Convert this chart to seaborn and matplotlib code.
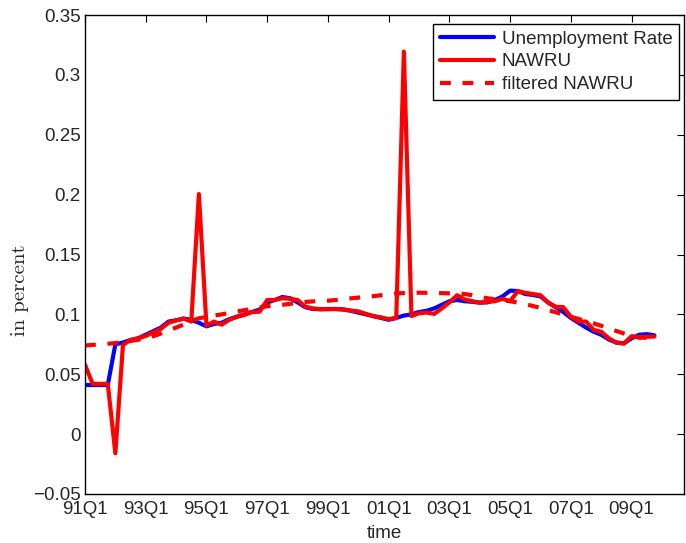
import numpy as np
import pandas as pd
import matplotlib
matplotlib.use("Agg")
import matplotlib.pyplot as plt
import seaborn as sns

# ---- data (quarterly, 91Q1 .. 09Q4) ----
quarter_index = list(range(76))
tick_positions = [0, 8, 16, 24, 32, 40, 48, 56, 64, 72]
tick_labels = ["91Q1", "93Q1", "95Q1", "97Q1", "99Q1", "01Q1", "03Q1", "05Q1", "07Q1", "09Q1"]

unemployment_rate = [
    0.041, 0.041, 0.041, 0.041, 0.075, 0.0765, 0.0786, 0.080, 0.083, 0.086,
    0.089, 0.094, 0.095, 0.0965, 0.0955, 0.093, 0.090, 0.092, 0.093, 0.096,
    0.098, 0.100, 0.102, 0.104, 0.110, 0.112, 0.1145, 0.1135, 0.110, 0.106,
    0.1045, 0.1043, 0.1045, 0.1045, 0.1042, 0.103, 0.1015, 0.100, 0.0985, 0.097,
    0.0955, 0.097, 0.099, 0.100, 0.102, 0.103, 0.105, 0.108, 0.111, 0.112,
    0.111, 0.1105, 0.1098, 0.110, 0.112, 0.115, 0.1198, 0.1195, 0.117, 0.1162,
    0.115, 0.110, 0.106, 0.102, 0.097, 0.093, 0.089, 0.0855, 0.083, 0.079,
    0.0765, 0.0758, 0.080, 0.083, 0.0835, 0.0825,
]

nawru = [
    0.058, 0.042, 0.042, 0.042, -0.016, 0.0745, 0.0786, 0.080, 0.082, 0.085,
    0.088, 0.093, 0.095, 0.0965, 0.094, 0.2005, 0.0906, 0.094, 0.0914, 0.0955,
    0.098, 0.0996, 0.102, 0.1022, 0.112, 0.112, 0.1135, 0.113, 0.112, 0.1065,
    0.105, 0.1043, 0.1043, 0.1045, 0.1040, 0.1032, 0.1025, 0.1004, 0.0985, 0.0975,
    0.096, 0.097, 0.3195, 0.0986, 0.101, 0.1015, 0.1004, 0.105, 0.110, 0.116,
    0.1125, 0.111, 0.1097, 0.1106, 0.111, 0.113, 0.111, 0.1194, 0.118, 0.117,
    0.116, 0.1097, 0.1064, 0.106, 0.098, 0.094, 0.094, 0.087, 0.0855, 0.080,
    0.0763, 0.0757, 0.0818, 0.081, 0.0813, 0.0815,
]

filtered_nawru = [
    0.0740, 0.0745, 0.0750, 0.0755, 0.0760, 0.0768, 0.0778, 0.0788, 0.0800, 0.0818,
    0.0840, 0.0865, 0.0890, 0.0915, 0.0945, 0.0967, 0.0980, 0.0990, 0.1000, 0.1012,
    0.1024, 0.1035, 0.1047, 0.1058, 0.1068, 0.1075, 0.1080, 0.1088, 0.1096, 0.1104,
    0.1108, 0.1111, 0.1114, 0.1120, 0.1127, 0.1134, 0.1140, 0.1146, 0.1152, 0.1160,
    0.1168, 0.1175, 0.1178, 0.1180, 0.1181, 0.1180, 0.1179, 0.1177, 0.1176, 0.1175,
    0.1170, 0.1160, 0.1145, 0.1135, 0.1125, 0.1118, 0.1110, 0.1098, 0.1085, 0.1070,
    0.1053, 0.1035, 0.1018, 0.0999, 0.0980, 0.0962, 0.0943, 0.0925, 0.0905, 0.0883,
    0.0861, 0.0840, 0.0820, 0.0805, 0.0805, 0.0810,
]

df = pd.DataFrame({
    "t": quarter_index,
    "Unemployment Rate": unemployment_rate,
    "NAWRU": nawru,
    "filtered NAWRU": filtered_nawru,
})

sns.set_style("white")
plt.rcParams["font.family"] = ["Liberation Sans", "DejaVu Sans"]
plt.rcParams["axes.unicode_minus"] = True

fig = plt.figure(figsize=(6.86, 5.43), dpi=100)
ax = fig.add_axes([85 / 686, 1 - 494 / 543, 599 / 686, 479 / 543])

lw = 3.0
sns.lineplot(data=df, x="t", y="Unemployment Rate", ax=ax, color=(0, 0, 1), lw=lw,
             label="Unemployment Rate")
sns.lineplot(data=df, x="t", y="NAWRU", ax=ax, color=(1, 0, 0), lw=lw, label="NAWRU")
sns.lineplot(data=df, x="t", y="filtered NAWRU", ax=ax, color=(1, 0, 0), lw=lw,
             label="filtered NAWRU", dashes=False)
ax.lines[-1].set_dashes((2.6, 2.8))

ax.set_xlim(0, 78.9)
ax.set_ylim(-0.05, 0.35)
ax.set_xticks(tick_positions)
ax.set_xticklabels(tick_labels)
ax.set_yticks([-0.05, 0, 0.05, 0.1, 0.15, 0.2, 0.25, 0.3, 0.35])
ax.set_yticklabels(["\u22120.05", "0", "0.05", "0.1", "0.15", "0.2", "0.25", "0.3", "0.35"])

ax.tick_params(axis="both", which="major", direction="in", length=5, width=0.8,
               labelsize=13.5, top=True, right=True, color="black")
ax.tick_params(axis="x", pad=5)
ax.tick_params(axis="y", pad=3)
for s in ax.spines.values():
    s.set_color("black")
    s.set_linewidth(1.0)

ax.set_xlabel("time", fontsize=13.5, labelpad=5)
ylab = ax.set_ylabel("in percent", fontsize=15, family=["cmr10", "DejaVu Serif"])
ylab.set_path_effects([])
ax.yaxis.set_label_coords(-0.093, 0.426)

leg = ax.legend(loc="upper right", bbox_to_anchor=(0.9917, 0.9812), borderaxespad=0,
                fancybox=False, edgecolor="black", framealpha=1, fontsize=13.5,
                handlelength=2.9, handletextpad=0.4, labelspacing=0.3, borderpad=0.35)
leg.get_frame().set_linewidth(1.0)

fig.savefig("out.png", dpi=100)
